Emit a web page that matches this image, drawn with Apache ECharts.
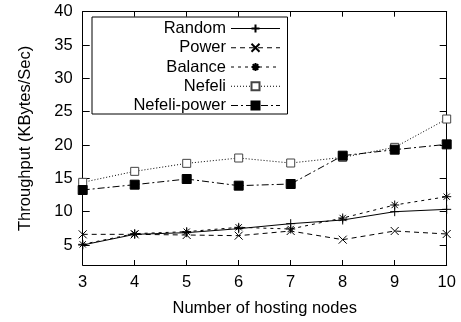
<!DOCTYPE html>
<html>
<head>
<meta charset="utf-8">
<script src="https://cdn.jsdelivr.net/npm/echarts@6/dist/echarts.min.js"></script>
<style>
  html, body { margin: 0; padding: 0; background: #fff; }
  #chart { width: 461px; height: 322px; }
</style>
</head>
<body>
<div id="chart"></div>
<script>
const nodes = [3, 4, 5, 6, 7, 8, 9, 10]
const randomData = [5.0, 6.6, 6.85, 7.45, 8.2, 8.75, 10.0, 10.35]
const powerData = [6.6, 6.6, 6.5, 6.4, 7.1, 5.8, 7.1, 6.65]
const balanceData = [5.1, 6.7, 7.0, 7.65, 7.4, 9.05, 11.0, 12.25]
const nefeliData = [14.4, 16.05, 17.25, 18.05, 17.3, 18.15, 19.65, 23.9]
const nefeliPowerData = [13.25, 14.05, 14.9, 13.9, 14.15, 18.4, 19.3, 20.1]
const yTicks = [5, 10, 15, 20, 25, 30, 35, 40]

const FONT = 'Liberation Sans, Arial, sans-serif'
const FS = 16.5
const plusPath = 'path://M0,5L10,5M5,0L5,10'
const crossPath = 'path://M0,0L10,10M10,0L0,10'
const starPath = 'path://M0,5L10,5M5,0L5,10M1.5,1.5L8.5,8.5M8.5,1.5L1.5,8.5'

const pairs = (values) => nodes.map((x, i) => [x, values[i]])

function lineSeries(name, values, dash, symbol, size, itemStyle) {
  return {
    name,
    type: 'line',
    data: pairs(values),
    symbol,
    symbolSize: size,
    showAllSymbol: true,
    lineStyle: { color: '#000', width: 1, type: dash },
    itemStyle,
    emphasis: { disabled: true },
  }
}

const strokeMark = { color: 'none', borderColor: '#000', borderWidth: 1 }

const chart = echarts.init(document.getElementById('chart'))
chart.setOption({
  animation: false,
  textStyle: { fontFamily: FONT },
  grid: { left: 82.7, right: 14.3, top: 11.7, bottom: 57 },
  legend: {
    orient: 'vertical',
    left: 92,
    top: 17,
    align: 'right',
    padding: [3, 7, 0, 7],
    itemGap: 2.25,
    itemWidth: 49,
    itemHeight: 10,
    borderColor: '#000',
    borderWidth: 1,
    backgroundColor: '#fff',
    selectedMode: false,
    lineStyle: { width: 1 },
    textStyle: { color: '#000', fontSize: FS, fontFamily: FONT, width: 127, align: 'right', lineHeight: 14 },
    data: ['Random', 'Power', 'Balance', 'Nefeli', 'Nefeli-power'],
  },
  xAxis: [
    {
      type: 'value',
      min: 3,
      max: 10,
      interval: 1,
      name: 'Number of hosting nodes',
      nameLocation: 'middle',
      nameGap: 35,
      nameTextStyle: { color: '#000', fontSize: FS, fontFamily: FONT },
      axisLine: { lineStyle: { color: '#000', width: 1 } },
      axisTick: { inside: true, length: 5, lineStyle: { color: '#000' } },
      axisLabel: { color: '#000', fontSize: FS, margin: 9, fontFamily: FONT },
      splitLine: { show: false },
    },
    {
      type: 'value',
      position: 'top',
      min: 3,
      max: 10,
      interval: 1,
      axisLine: { lineStyle: { color: '#000', width: 1 } },
      axisTick: { inside: true, length: 5, lineStyle: { color: '#000' } },
      axisLabel: { show: false },
      splitLine: { show: false },
    },
  ],
  yAxis: [
    {
      type: 'value',
      min: 2,
      max: 40,
      name: 'Throughput (KBytes/Sec)',
      nameLocation: 'middle',
      nameGap: 49,
      nameTextStyle: { color: '#000', fontSize: FS, fontFamily: FONT },
      axisLine: { show: true, lineStyle: { color: '#000', width: 1 } },
      axisTick: { show: true, inside: true, length: 7, customValues: yTicks, lineStyle: { color: '#000' } },
      axisLabel: { color: '#000', fontSize: FS, margin: 10, fontFamily: FONT, customValues: yTicks },
      splitLine: { show: false },
    },
    {
      type: 'value',
      position: 'right',
      min: 2,
      max: 40,
      axisLine: { show: true, lineStyle: { color: '#000', width: 1 } },
      axisTick: { show: true, inside: true, length: 7, customValues: yTicks, lineStyle: { color: '#000' } },
      axisLabel: { show: false, customValues: yTicks },
      splitLine: { show: false },
    },
  ],
  series: [
    lineSeries('Random', randomData, 'solid', plusPath, 9, strokeMark),
    lineSeries('Power', powerData, [5, 4], crossPath, 8, strokeMark),
    lineSeries('Balance', balanceData, [3, 4], starPath, 9, strokeMark),
    lineSeries('Nefeli', nefeliData, [1, 2], 'rect', 8, { color: '#fff', borderColor: '#444', borderWidth: 1 }),
    lineSeries('Nefeli-power', nefeliPowerData, [7, 3, 2, 3], 'rect', 9, { color: '#000', borderColor: '#000', borderWidth: 1 }),
  ],
})
</script>
</body>
</html>
